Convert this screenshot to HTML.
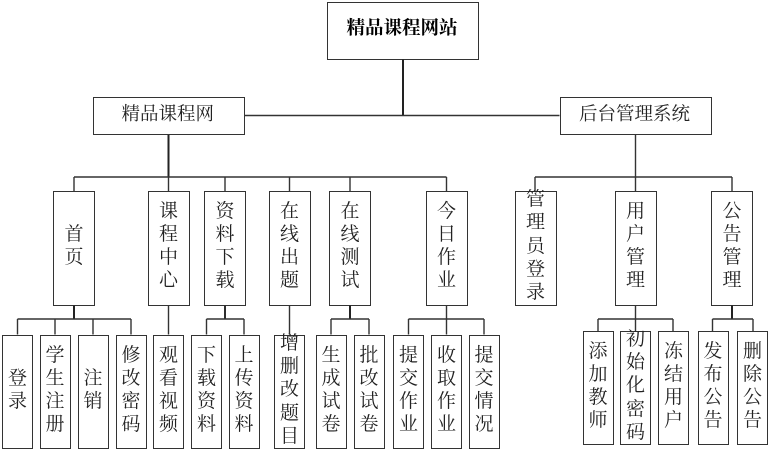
<!DOCTYPE html>
<html><head><meta charset="utf-8">
<style>
html,body{margin:0;padding:0;background:#fff}
#p{position:relative;width:770px;height:451px;overflow:hidden;background:#fff;font-family:"Liberation Serif","Noto Serif CJK SC",serif;font-size:19px;color:#222}
svg{position:absolute;left:0;top:0}
.b{position:absolute;box-sizing:border-box;border:1.5px solid #333;background:#fff;display:flex;align-items:center;justify-content:center}
.b span{display:block;width:20px;line-height:23.2px;text-align:center;flex:none}
.h{font-size:18.5px}
.h span{width:auto;white-space:nowrap;position:relative;left:-1px}
.m{top:191px;height:114.5px;width:42px;padding-bottom:4px}
.l{top:334.5px;height:114px;width:31px;padding-bottom:3px}
.r{top:331px;height:114px;width:31px;padding-bottom:4px}
</style></head><body>
<div id="p">
<div class="b h" style="left:327px;top:2px;width:152px;height:57.5px;font-weight:bold;color:#000;padding-bottom:2px"><span>精品课程网站</span></div>
<div class="b h" style="left:93px;top:97px;width:151.5px;height:38px"><span>精品课程网</span></div>
<div class="b h" style="left:559.5px;top:97px;width:152px;height:38px"><span>后台管理系统</span></div>

<div class="b m" style="left:53px"><span>首页</span></div>
<div class="b m" style="left:147.5px"><span>课程中心</span></div>
<div class="b m" style="left:204px"><span>资料下载</span></div>
<div class="b m" style="left:268.5px"><span>在线出题</span></div>
<div class="b m" style="left:329px"><span>在线测试</span></div>
<div class="b m" style="left:425.5px"><span>今日作业</span></div>
<div class="b m" style="left:514.5px"><span>管理员登录</span></div>
<div class="b m" style="left:614.5px"><span>用户管理</span></div>
<div class="b m" style="left:711px"><span>公告管理</span></div>

<div class="b l" style="left:2px"><span>登录</span></div>
<div class="b l" style="left:39.5px"><span>学生注册</span></div>
<div class="b l" style="left:77.5px"><span>注销</span></div>
<div class="b l" style="left:115.5px"><span>修改密码</span></div>
<div class="b l" style="left:153px"><span>观看视频</span></div>
<div class="b l" style="left:191px"><span>下载资料</span></div>
<div class="b l" style="left:228.5px"><span>上传资料</span></div>
<div class="b l" style="left:274px"><span>增删改题目</span></div>
<div class="b l" style="left:315.5px"><span>生成试卷</span></div>
<div class="b l" style="left:353.5px"><span>批改试卷</span></div>
<div class="b l" style="left:393px"><span>提交作业</span></div>
<div class="b l" style="left:431px"><span>收取作业</span></div>
<div class="b l" style="left:468.5px"><span>提交情况</span></div>

<div class="b r" style="left:582.5px"><span>添加教师</span></div>
<div class="b r" style="left:620px"><span>初始化密码</span></div>
<div class="b r" style="left:658px"><span>冻结用户</span></div>
<div class="b r" style="left:697.5px"><span>发布公告</span></div>
<div class="b r" style="left:737px"><span>删除公告</span></div>

<svg width="770" height="451" fill="none">
<g stroke="#222" stroke-width="2">
<path d="M403 59.5V115.5"/>
<path d="M168.5 135V177"/>
<path d="M74 305.5V319"/>
<path d="M225 305.5V319"/>
<path d="M350 305.5V319"/>
<path d="M732 305.5V319"/>
</g>
<g stroke="#333" stroke-width="1.4">
<path d="M244.5 115.5H559.5"/>
<path d="M74 177H446.5M74 177V191M168.5 177V191M225 177V191M289.5 177V191M350 177V191M446.5 177V191"/>
<path d="M635.5 135V191M535 177H732M535 177V191M732 177V191"/>
<path d="M17.5 319H131M17.5 319V334.5M55 319V334.5M93 319V334.5M131 319V334.5"/>
<path d="M168.5 305.5V334.5"/>
<path d="M206.5 319H244M206.5 319V334.5M244 319V334.5M225 305.5V319"/>
<path d="M289.5 305.5V334.5"/>
<path d="M331 319H369M331 319V334.5M369 319V334.5"/>
<path d="M446.5 305.5V334.5M408.5 319H484M408.5 319V334.5M484 319V334.5"/>
<path d="M635.5 305.5V331M598 319H673M598 319V331M673 319V331"/>
<path d="M712.5 319H753M712.5 319V331M753 319V331"/>
</g>
</svg>
</div>
</body></html>
